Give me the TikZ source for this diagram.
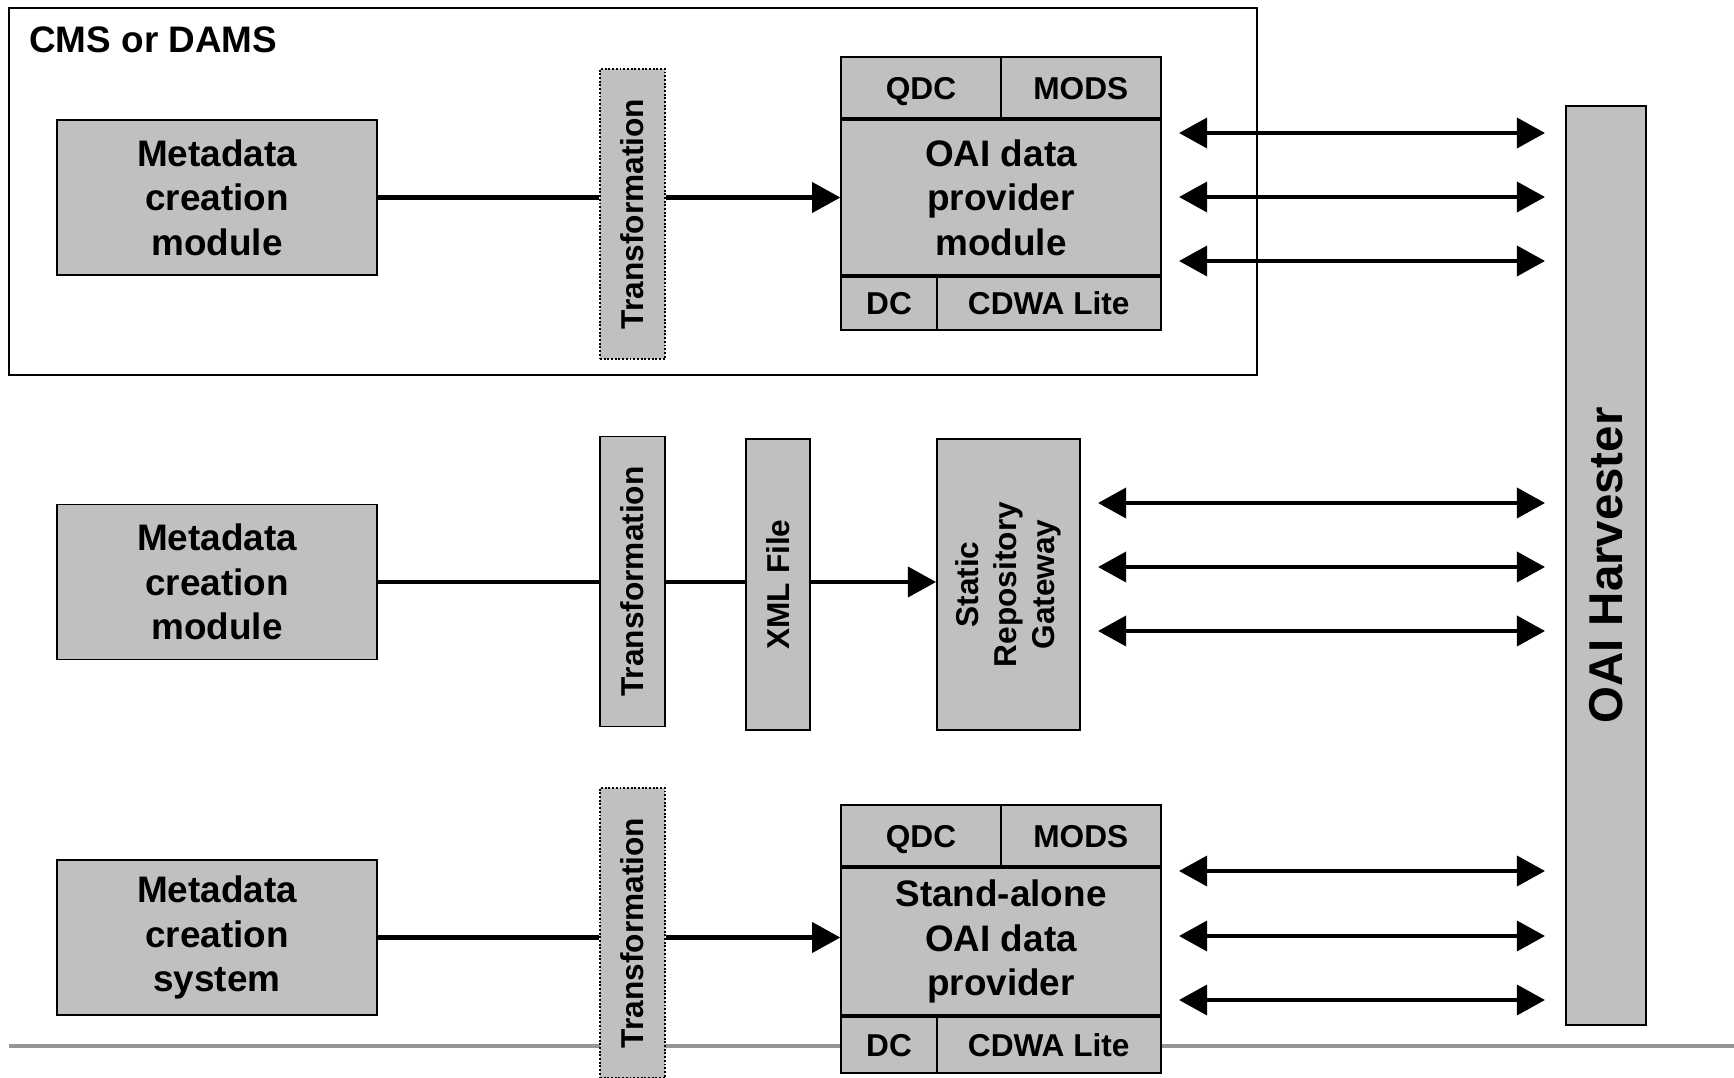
\documentclass[tikz,border=0pt]{standalone}
\usepackage{fontspec}
\setmainfont{Liberation Sans}
\usetikzlibrary{arrows.meta,positioning}
\definecolor{boxgray}{RGB}{192,192,192}
\definecolor{rulegray}{RGB}{150,150,150}
\newcommand{\bigfont}{\fontsize{21}{25.4}\selectfont\bfseries}
\newcommand{\smallfont}{\fontsize{18}{21.6}\selectfont\bfseries}

\begin{document}
\begin{tikzpicture}[x=0.02cm,y=-0.02cm,
  box/.style={draw,fill=boxgray,line width=1.1pt,inner sep=0pt,align=center,font=\bigfont},
  tag/.style={box,font=\smallfont},
  fmt/.style={tag,text height=14.5pt,text depth=1.5pt},
  module/.style={box,minimum width=6.39cm,minimum height=3.1cm},
  trans/.style={tag,minimum width=1.3cm,minimum height=5.8cm},
  dottedtrans/.style={trans,densely dotted,line width=0.7pt},
  plain/.style={line width=2.4pt},
  feed/.style={plain,-{Triangle[length=16pt,width=17pt]}},
  both/.style={plain,{Triangle[length=16pt,width=17pt]}-{Triangle[length=16pt,width=17pt]}}]
\useasboundingbox (0,0) rectangle (1734,1078);

\draw[rulegray,line width=2pt] (9,1046) -- (1734,1046);
\draw[line width=0.9pt] (9,8) rectangle (1257,375);
\node[anchor=west,inner sep=0pt,font=\bigfont] (cms) at (29,40) {CMS or DAMS};

% first row
\node[module] (meta1) at (217,197.5) {Metadata\\creation\\module};
\node[dottedtrans] (trans1) at (632.5,214) {\rotatebox{90}{Transformation}};
\node[module] (oai1) at (1001,197.5) {OAI data\\provider\\module};
\node[fmt,anchor=south west,minimum width=3.19cm,minimum height=1.22cm] (qdc1) at (oai1.north west) {QDC};
\node[fmt,anchor=south east,minimum width=3.2cm,minimum height=1.22cm] (mods1) at (oai1.north east) {MODS};
\node[fmt,anchor=north west,minimum width=1.91cm,minimum height=1.06cm] (dc1) at (oai1.south west) {DC};
\node[fmt,anchor=north east,minimum width=4.48cm,minimum height=1.06cm] (cdwa1) at (oai1.south east) {CDWA Lite};

% second row
\node[module] (meta2) at (217,582) {Metadata\\creation\\module};
\node[trans] (trans2) at (632.5,581.5) {\rotatebox{90}{Transformation}};
\node[trans,minimum width=1.28cm,minimum height=5.82cm] (xml) at (778,584.5) {\rotatebox{90}{XML File}};
\node[tag,minimum width=2.86cm,minimum height=5.82cm] (srg) at (1008.5,584.5)
  {\rotatebox{90}{\begin{tabular}{@{}c@{}}Static\\Repository\\Gateway\end{tabular}}};

% third row
\node[module] (meta3) at (217,937.5) {Metadata\\creation\\system};
\node[dottedtrans] (trans3) at (632.5,933) {\rotatebox{90}{Transformation}};
\node[module,minimum height=2.94cm] (oai3) at (1001,941.5) {Stand-alone\\OAI data\\provider};
\node[fmt,anchor=south west,minimum width=3.19cm,minimum height=1.22cm] (qdc3) at (oai3.north west) {QDC};
\node[fmt,anchor=south east,minimum width=3.2cm,minimum height=1.22cm] (mods3) at (oai3.north east) {MODS};
\node[fmt,anchor=north west,minimum width=1.91cm,minimum height=1.12cm] (dc3) at (oai3.south west) {DC};
\node[fmt,anchor=north east,minimum width=4.48cm,minimum height=1.12cm] (cdwa3) at (oai3.south east) {CDWA Lite};

\node[box,line width=0.9pt,minimum width=1.6cm,minimum height=18.38cm,font=\fontsize{27}{32}\selectfont\bfseries] (harv) at (1606,565.5) {\rotatebox{90}{OAI Harvester}};

\draw[plain] (meta1.east) -- (trans1.west |- meta1.east);
\draw[feed] (trans1.east |- meta1.east) -- (oai1.west |- meta1.east);
\draw[plain] (meta2.east) -- (trans2.west |- meta2.east);
\draw[plain] (trans2.east |- meta2.east) -- (xml.west |- meta2.east);
\draw[feed] (xml.east |- meta2.east) -- (srg.west |- meta2.east);
\draw[plain] (meta3.east) -- (trans3.west |- meta3.east);
\draw[feed] (trans3.east |- meta3.east) -- (oai3.west |- meta3.east);

\foreach \y in {133,197,261,871,936,1000} {
  \coordinate (pl\y) at (1179,\y);
  \coordinate (pr\y) at (1545,\y);
  \draw[both] (pl\y) -- (pr\y);
}
\foreach \y in {503,567,631} {
  \coordinate (pl\y) at (1098,\y);
  \coordinate (pr\y) at (1545,\y);
  \draw[both] (pl\y) -- (pr\y);
}
\end{tikzpicture}
\end{document}
